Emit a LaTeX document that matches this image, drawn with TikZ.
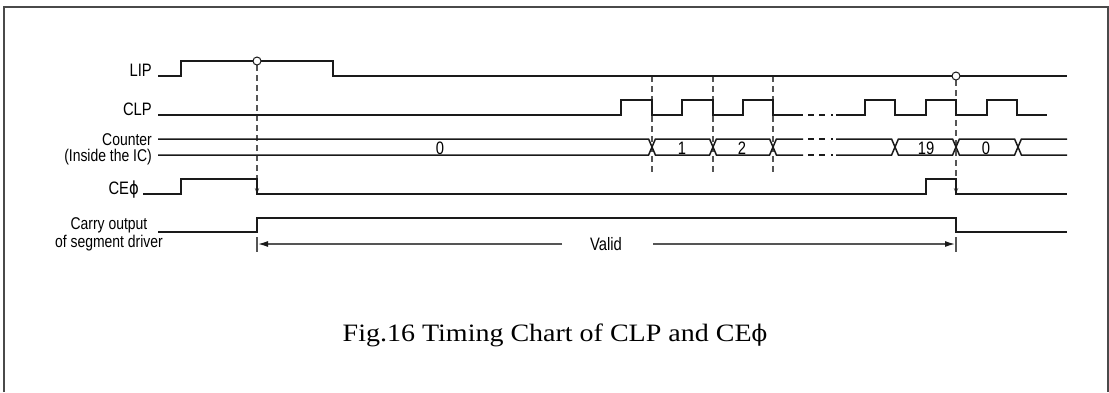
\documentclass[tikz,border=0pt]{standalone}
\usepackage{fontspec}
\usetikzlibrary{arrows.meta}
\newfontfamily\lab[FakeStretch=0.82]{Liberation Sans}
\newfontfamily\labphi[FakeStretch=0.82]{DejaVu Sans}
\newfontfamily\capfont[FakeStretch=1.12]{Liberation Serif}
\newfontfamily\capphi[FakeStretch=1.0]{DejaVu Serif}
\definecolor{sigc}{HTML}{1A1A1A}
\definecolor{dashc}{HTML}{555555}
\definecolor{framec}{HTML}{4A4A4A}
\tikzset{
  sig/.style={draw=sigc, line width=1.5pt, line join=miter},
  guide/.style={draw=dashc, line width=1.3pt, dash pattern=on 6pt off 4pt},
  gapdash/.style={draw=sigc, line width=1.5pt},
  lbl/.style={font=\lab\fontsize{18}{20}\selectfont, inner sep=0pt},
  lblsm/.style={font=\lab\fontsize{17}{19}\selectfont, inner sep=0pt},
  num/.style={font=\lab\fontsize{18}{20}\selectfont, inner sep=0pt},
  mark circle/.style={draw=sigc, fill=white, line width=1pt, circle, minimum size=8pt, inner sep=0pt},
  validline/.style={draw=dashc, line width=1.3pt},
  tip/.style={-{Stealth[length=6pt,width=4.5pt]}},
  vtip/.style={-{Latex[length=10pt,width=6pt,color=sigc]}}
}
\begin{document}
\begin{tikzpicture}[x=1pt,y=-1pt]
\useasboundingbox (0,0) rectangle (1109,392);
% frame
\draw[framec, line width=2pt] (3.5,392) -- (3.5,6.5) -- (1107.5,6.5) -- (1107.5,392);

% labels
\node[lbl, anchor=base east] (lLIP) at (152,76) {LIP};
\node[lbl, anchor=base east] (lCLP) at (152,115) {CLP};
\node[lblsm, anchor=base east] (lCnt) at (152,145) {Counter};
\node[lblsm, anchor=base east] (lIns) at (152,161) {(Inside the IC)};
\node[lbl, anchor=base east] (lCE) at (139,194) {CE{\labphi ϕ}};
\node[lblsm, anchor=base] (lCar) at (109,229) {Carry output};
\node[lblsm, anchor=base] (lSeg) at (109,247) {of segment driver};

% guides (dashed)
\draw[guide, tip] (257,65) -- (257,194);
\draw[guide] (652,76) -- (652,172);
\draw[guide] (713,76) -- (713,172);
\draw[guide] (773,76) -- (773,172);
\draw[guide, tip] (956,80) -- (956,194);

% LIP
\draw[sig] (158,76) -- (181,76) -- (181,61) -- (333,61) -- (333,76) -- (1067,76);
\node[mark circle] (c1) at (257,61) {};
\node[mark circle] (c2) at (956,76) {};

% CLP
\draw[sig] (158,115) -- (621,115) -- (621,100) -- (652,100) -- (652,115) -- (682,115) -- (682,100) -- (713,100) -- (713,115) -- (743,115) -- (743,100) -- (773,100) -- (773,115) -- (803,115);
\draw[gapdash] (808,115) -- (814,115) (819,115) -- (825,115) (831,115) -- (832.5,115);
\draw[sig] (836,115) -- (865,115) -- (865,100) -- (895,100) -- (895,115) -- (926,115) -- (926,100) -- (956,100) -- (956,115) -- (987,115) -- (987,100) -- (1017,100) -- (1017,115) -- (1047,115);

% Counter bus
\def\d{3.4}
\draw[sig] (158,139) -- (652-\d,139) -- (652,147) -- (652-\d,155) -- (158,155);
\draw[sig] (652,147) -- (652+\d,139) -- (713-\d,139) -- (713,147) -- (713-\d,155) -- (652+\d,155) -- cycle;
\draw[sig] (713,147) -- (713+\d,139) -- (773-\d,139) -- (773,147) -- (773-\d,155) -- (713+\d,155) -- cycle;
\draw[sig] (803,139) -- (773+\d,139) -- (773,147) -- (773+\d,155) -- (803,155);
\draw[gapdash] (808,139) -- (814,139) (819,139) -- (825,139) (831,139) -- (832.5,139);
\draw[gapdash] (808,155) -- (814,155) (819,155) -- (825,155) (831,155) -- (832.5,155);
\draw[sig] (836,139) -- (895-\d,139) -- (895,147) -- (895-\d,155) -- (836,155);
\draw[sig] (895,147) -- (895+\d,139) -- (956-\d,139) -- (956,147) -- (956-\d,155) -- (895+\d,155) -- cycle;
\draw[sig] (956,147) -- (956+\d,139) -- (1018-\d,139) -- (1018,147) -- (1018-\d,155) -- (956+\d,155) -- cycle;
\draw[sig] (1067,139) -- (1018+\d,139) -- (1018,147) -- (1018+\d,155) -- (1067,155);
\node[num, anchor=base] (n0) at (440,154) {0};
\node[num, anchor=base] (n1) at (682,154) {1};
\node[num, anchor=base] (n2) at (742,154) {2};
\node[num, anchor=base] (n19) at (926,154) {19};
\node[num, anchor=base] (n0b) at (986,154) {0};

% CE phi
\draw[sig] (143,194) -- (181,194) -- (181,179) -- (257,179) -- (257,194) -- (926,194) -- (926,179) -- (956,179) -- (956,194) -- (1067,194);

% Carry output
\draw[sig] (158,232) -- (257,232) -- (257,218) -- (956,218) -- (956,232) -- (1067,232);

% Valid
\draw[validline] (257,237) -- (257,252);
\draw[validline] (956,237) -- (956,252);
\node[lbl, anchor=base] (valid) at (606,250.5) {Valid};
\coordinate (vl) at (258,244);
\coordinate (vr) at (955,244);
\draw[validline, vtip] (562,244) -- (vl);
\draw[validline, vtip] (653,244) -- (vr);

% caption
\node[font=\capfont\fontsize{25}{28}\selectfont, inner sep=0pt, anchor=base] (cap) at (555,341) {Fig.16 Timing Chart of CLP and CE{\capphi\fontsize{23}{26}\selectfont ϕ}};
\end{tikzpicture}
\end{document}
